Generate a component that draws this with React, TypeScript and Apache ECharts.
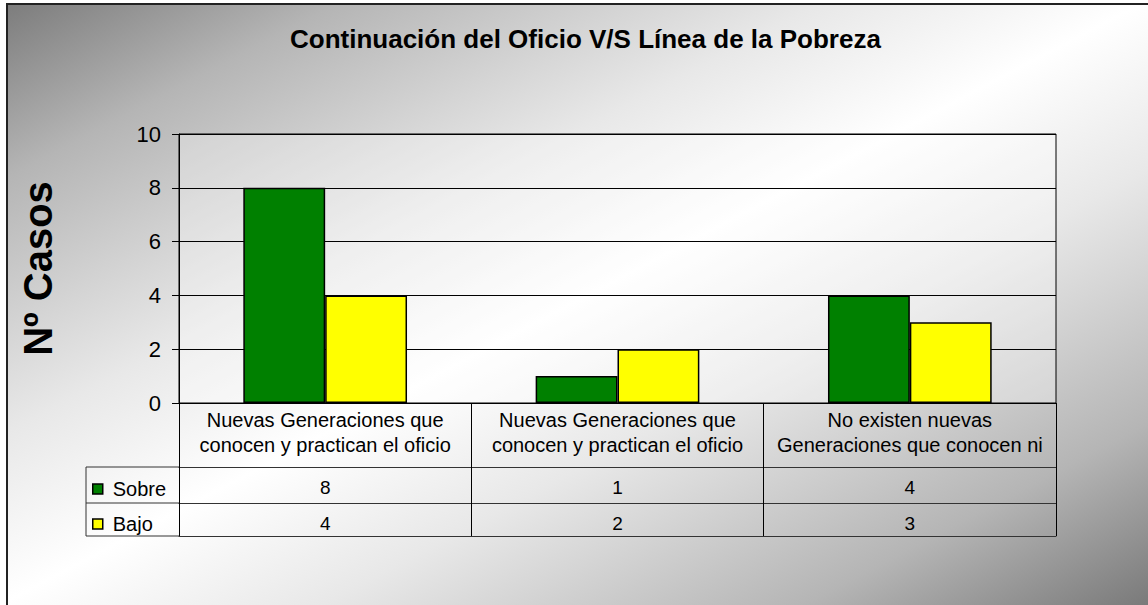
import React, { useEffect, useRef } from "react";
import * as echarts from "echarts";

const titleText = "Continuación del Oficio V/S Línea de la Pobreza";
const yAxisName = "Nº Casos";
const categories = [
  "Nuevas Generaciones que\nconocen y practican el oficio",
  "Nuevas Generaciones que\nconocen y practican el oficio",
  "No existen nuevas\nGeneraciones que conocen ni",
];
const seriesNames = ["Sobre", "Bajo"];
const sobreValues = [8, 1, 4];
const bajoValues = [4, 2, 3];
const yTicks = { min: 0, max: 10, interval: 2 };

const W = 1148;
const H = 605;
const GRID = { left: 179, top: 134, width: 877, height: 269 };
const ROW_OFFSETS = [64, 100, 133];
const LEGEND_COL_LEFT = 86;
const FONT = "'Liberation Sans', Arial, sans-serif";

export default function App() {
  const ref = useRef<HTMLDivElement>(null);
  useEffect(() => {
    document.body.style.margin = "0";
    const chart = echarts.init(ref.current!, undefined, { renderer: "svg" });
    const gridBottom = GRID.top + GRID.height;
    const rowLines = ROW_OFFSETS.map((o) => ({
      type: "line",
      shape: { x1: LEGEND_COL_LEFT, y1: gridBottom + o, x2: GRID.left, y2: gridBottom + o },
      style: { stroke: "#333", lineWidth: 1 },
    }));
    const bg = new echarts.graphic.LinearGradient(
      324.5, -171, 823.5, 776,
      [
        { offset: 0, color: "#7a7a7a" },
        { offset: 0.15, color: "#b5b5b5" },
        { offset: 0.28, color: "#d5d5d5" },
        { offset: 0.36, color: "#e8e8e8" },
        { offset: 0.5, color: "#ffffff" },
        { offset: 0.64, color: "#e8e8e8" },
        { offset: 0.72, color: "#d5d5d5" },
        { offset: 0.85, color: "#b5b5b5" },
        { offset: 1, color: "#7a7a7a" },
      ],
      true
    );
    const tableLabel = {
      fontFamily: FONT,
      fontSize: 19,
      color: "#000",
      lineHeight: 20,
      margin: 10,
      interval: 0,
    };
    const rowAxis = (values: (string | number)[], offset: number, showLabel: boolean) => ({
      type: "category",
      gridIndex: 0,
      position: "bottom",
      offset,
      data: values.map((v) => String(v)),
      axisLine: { show: true, lineStyle: { color: "#333", width: 1 } },
      axisTick: { show: false },
      axisLabel: { ...tableLabel, show: showLabel },
      splitLine: { show: false },
    });
    chart.setOption({
      animation: false,
      backgroundColor: bg,
      title: {
        text: titleText,
        left: 290,
        top: 26,
        padding: 0,
        textStyle: { fontFamily: FONT, fontSize: 26, fontWeight: "bold", color: "#000" },
      },
      legend: {
        orient: "vertical",
        left: 92,
        top: 479,
        padding: 0,
        itemGap: 15,
        itemWidth: 10,
        itemHeight: 10,
        icon: "rect",
        data: seriesNames,
        selectedMode: false,
        itemStyle: { borderColor: "#000", borderWidth: 1.5 },
        textStyle: { fontFamily: FONT, fontSize: 20, color: "#000", lineHeight: 20, padding: [0, 0, 0, 5] },
      },
      grid: {
        ...GRID,
        show: true,
        backgroundColor: "rgba(255,255,255,0.3)",
        borderColor: "#000",
        borderWidth: 1,
      },
      xAxis: [
        {
          type: "category",
          data: categories,
          position: "bottom",
          axisLine: { show: true, lineStyle: { color: "#000", width: 1 } },
          axisTick: { show: true, length: ROW_OFFSETS[2], interval: 0, lineStyle: { color: "#000", width: 1 } },
          axisLabel: { fontFamily: FONT, fontSize: 20, color: "#000", lineHeight: 24.5, margin: 5, interval: 0 },
          splitLine: { show: false },
        },
        rowAxis(sobreValues, ROW_OFFSETS[0], true),
        rowAxis(bajoValues, ROW_OFFSETS[1], true),
        rowAxis(["", "", ""], ROW_OFFSETS[2], false),
      ],
      yAxis: {
        type: "value",
        min: yTicks.min,
        max: yTicks.max,
        interval: yTicks.interval,
        name: yAxisName,
        nameLocation: "middle",
        nameRotate: 90,
        nameGap: 121,
        nameTextStyle: { fontFamily: FONT, fontSize: 40, fontWeight: "bold", color: "#000" },
        axisLine: { show: true, lineStyle: { color: "#000", width: 1 } },
        axisTick: { show: true, length: 7, lineStyle: { color: "#000" } },
        axisLabel: { fontFamily: FONT, fontSize: 22, color: "#000", margin: 18 },
        splitLine: { show: true, lineStyle: { color: "#000", width: 1 } },
      },
      series: [
        {
          name: seriesNames[0],
          type: "bar",
          xAxisIndex: 0,
          data: sobreValues,
          barGap: "0%",
          barCategoryGap: "44%",
          itemStyle: { color: "#008000", borderColor: "#000", borderWidth: 1.5 },
        },
        {
          name: seriesNames[1],
          type: "bar",
          xAxisIndex: 0,
          data: bajoValues,
          barGap: "0%",
          barCategoryGap: "44%",
          itemStyle: { color: "#ffff00", borderColor: "#000", borderWidth: 1.5 },
        },
      ],
      graphic: [
        { type: "rect", shape: { x: 0, y: 0, width: 7, height: H }, style: { fill: "#fff" }, silent: true },
        { type: "rect", shape: { x: 0, y: 0, width: W, height: 4 }, style: { fill: "#fff" }, silent: true },
        {
          type: "polyline",
          shape: { points: [[7, H], [7, 4], [W, 4]] },
          style: { stroke: "#222", lineWidth: 2, fill: "none" },
          silent: true,
        },
        ...rowLines,
        {
          type: "line",
          shape: { x1: LEGEND_COL_LEFT, y1: gridBottom + ROW_OFFSETS[0], x2: LEGEND_COL_LEFT, y2: gridBottom + ROW_OFFSETS[2] },
          style: { stroke: "#333", lineWidth: 1 },
        },
      ],
    });
    return () => chart.dispose();
  }, []);
  return (
    <div
      ref={ref}
      style={{ position: "absolute", left: 0, top: 0, width: W, height: H }}
    />
  );
}
